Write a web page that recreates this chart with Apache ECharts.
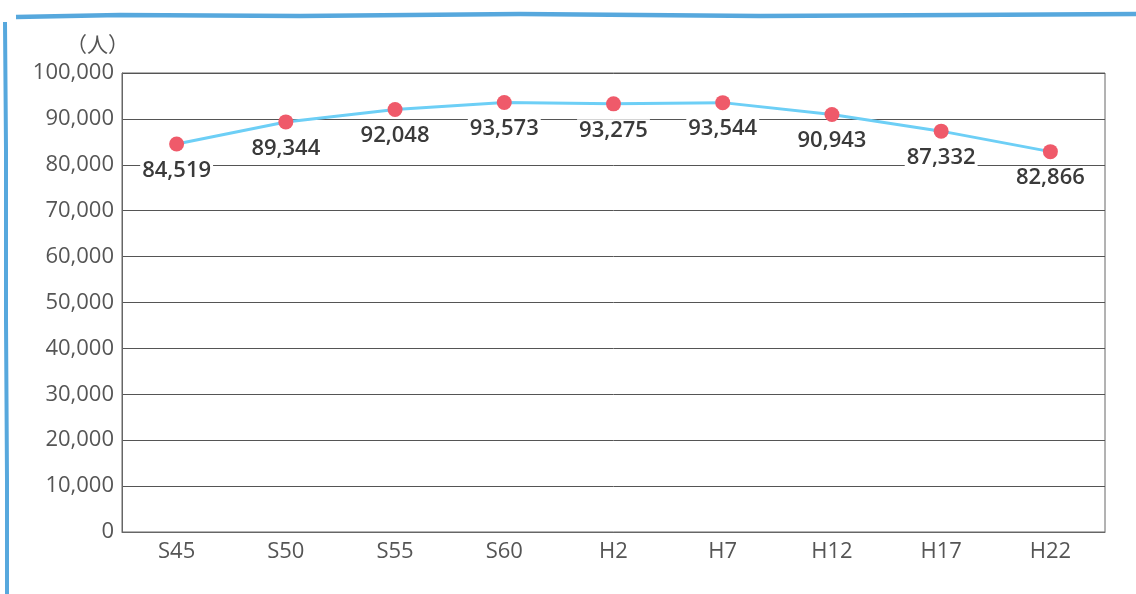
<!DOCTYPE html>
<html>
<head>
<meta charset="utf-8">
<style>
  html, body { margin: 0; padding: 0; background: #fff; }
  #chart { width: 1136px; height: 594px; }
</style>
<script src="https://cdn.jsdelivr.net/npm/echarts@6/dist/echarts.min.js"></script>
</head>
<body>
<div id="chart"></div>
<script>
// Census years (Showa / Heisei) and population
const years = ['S45', 'S50', 'S55', 'S60', 'H2', 'H7', 'H12', 'H17', 'H22'];
const population = [84519, 89344, 92048, 93573, 93275, 93544, 90943, 87332, 82866];
const unitLabel = '（人）';

const chart = echarts.init(document.getElementById('chart'), null, { renderer: 'canvas' });
const font = '"Open Sans", "Noto Sans", "Noto Sans CJK JP", sans-serif';

chart.setOption({
  animation: false,
  backgroundColor: '#fff',
  grid: { left: 122, right: 31, top: 73, bottom: 62, containLabel: false,
          show: true, borderColor: '#666', borderWidth: 1 },
  graphic: [
    // brush-stroke frame, top edge
    { type: 'polyline', silent: true,
      shape: { points: [[16, 17], [120, 15], [300, 16], [520, 14], [760, 16], [960, 15], [1136, 14]] },
      style: { stroke: '#57a8dd', lineWidth: 4.5, fill: null } },
    // brush-stroke frame, left edge
    { type: 'polyline', silent: true,
      shape: { points: [[5, 22], [6, 150], [6, 320], [7, 480], [7, 594]] },
      style: { stroke: '#57a8dd', lineWidth: 4, fill: null } },
    { type: 'text', left: 66, top: 36,
      style: { text: unitLabel, font: '21px ' + font, fill: '#555' } }
  ],
  xAxis: {
    type: 'category',
    data: years,
    boundaryGap: true,
    axisLine: { show: true, lineStyle: { color: '#666', width: 1 } },
    axisTick: { show: false },
    axisLabel: { color: '#555', fontSize: 22, fontFamily: font, margin: 9 },
    splitLine: { show: false }
  },
  yAxis: {
    type: 'value',
    min: 0, max: 100000, interval: 10000,
    axisLine: { show: true, lineStyle: { color: '#666', width: 1 } },
    axisTick: { show: false },
    axisLabel: {
      color: '#555', fontSize: 22, fontFamily: font, margin: 8,
      formatter: v => v.toLocaleString('en-US')
    },
    splitLine: { show: true, lineStyle: { color: '#555', width: 1 } }
  },
  series: [{
    type: 'line',
    data: population,
    symbol: 'circle',
    symbolSize: 15,
    lineStyle: { color: '#6dcff6', width: 3 },
    itemStyle: { color: '#ef5a6a', borderWidth: 0 },
    label: {
      show: true,
      position: 'bottom',
      distance: 8,
      color: '#3a3a3a',
      fontSize: 22,
      fontWeight: 600,
      fontFamily: font,
      backgroundColor: '#fff',
      padding: [0, 2, 0, 2],
      formatter: p => p.value.toLocaleString('en-US')
    },
    z: 5
  }]
});
</script>
</body>
</html>
